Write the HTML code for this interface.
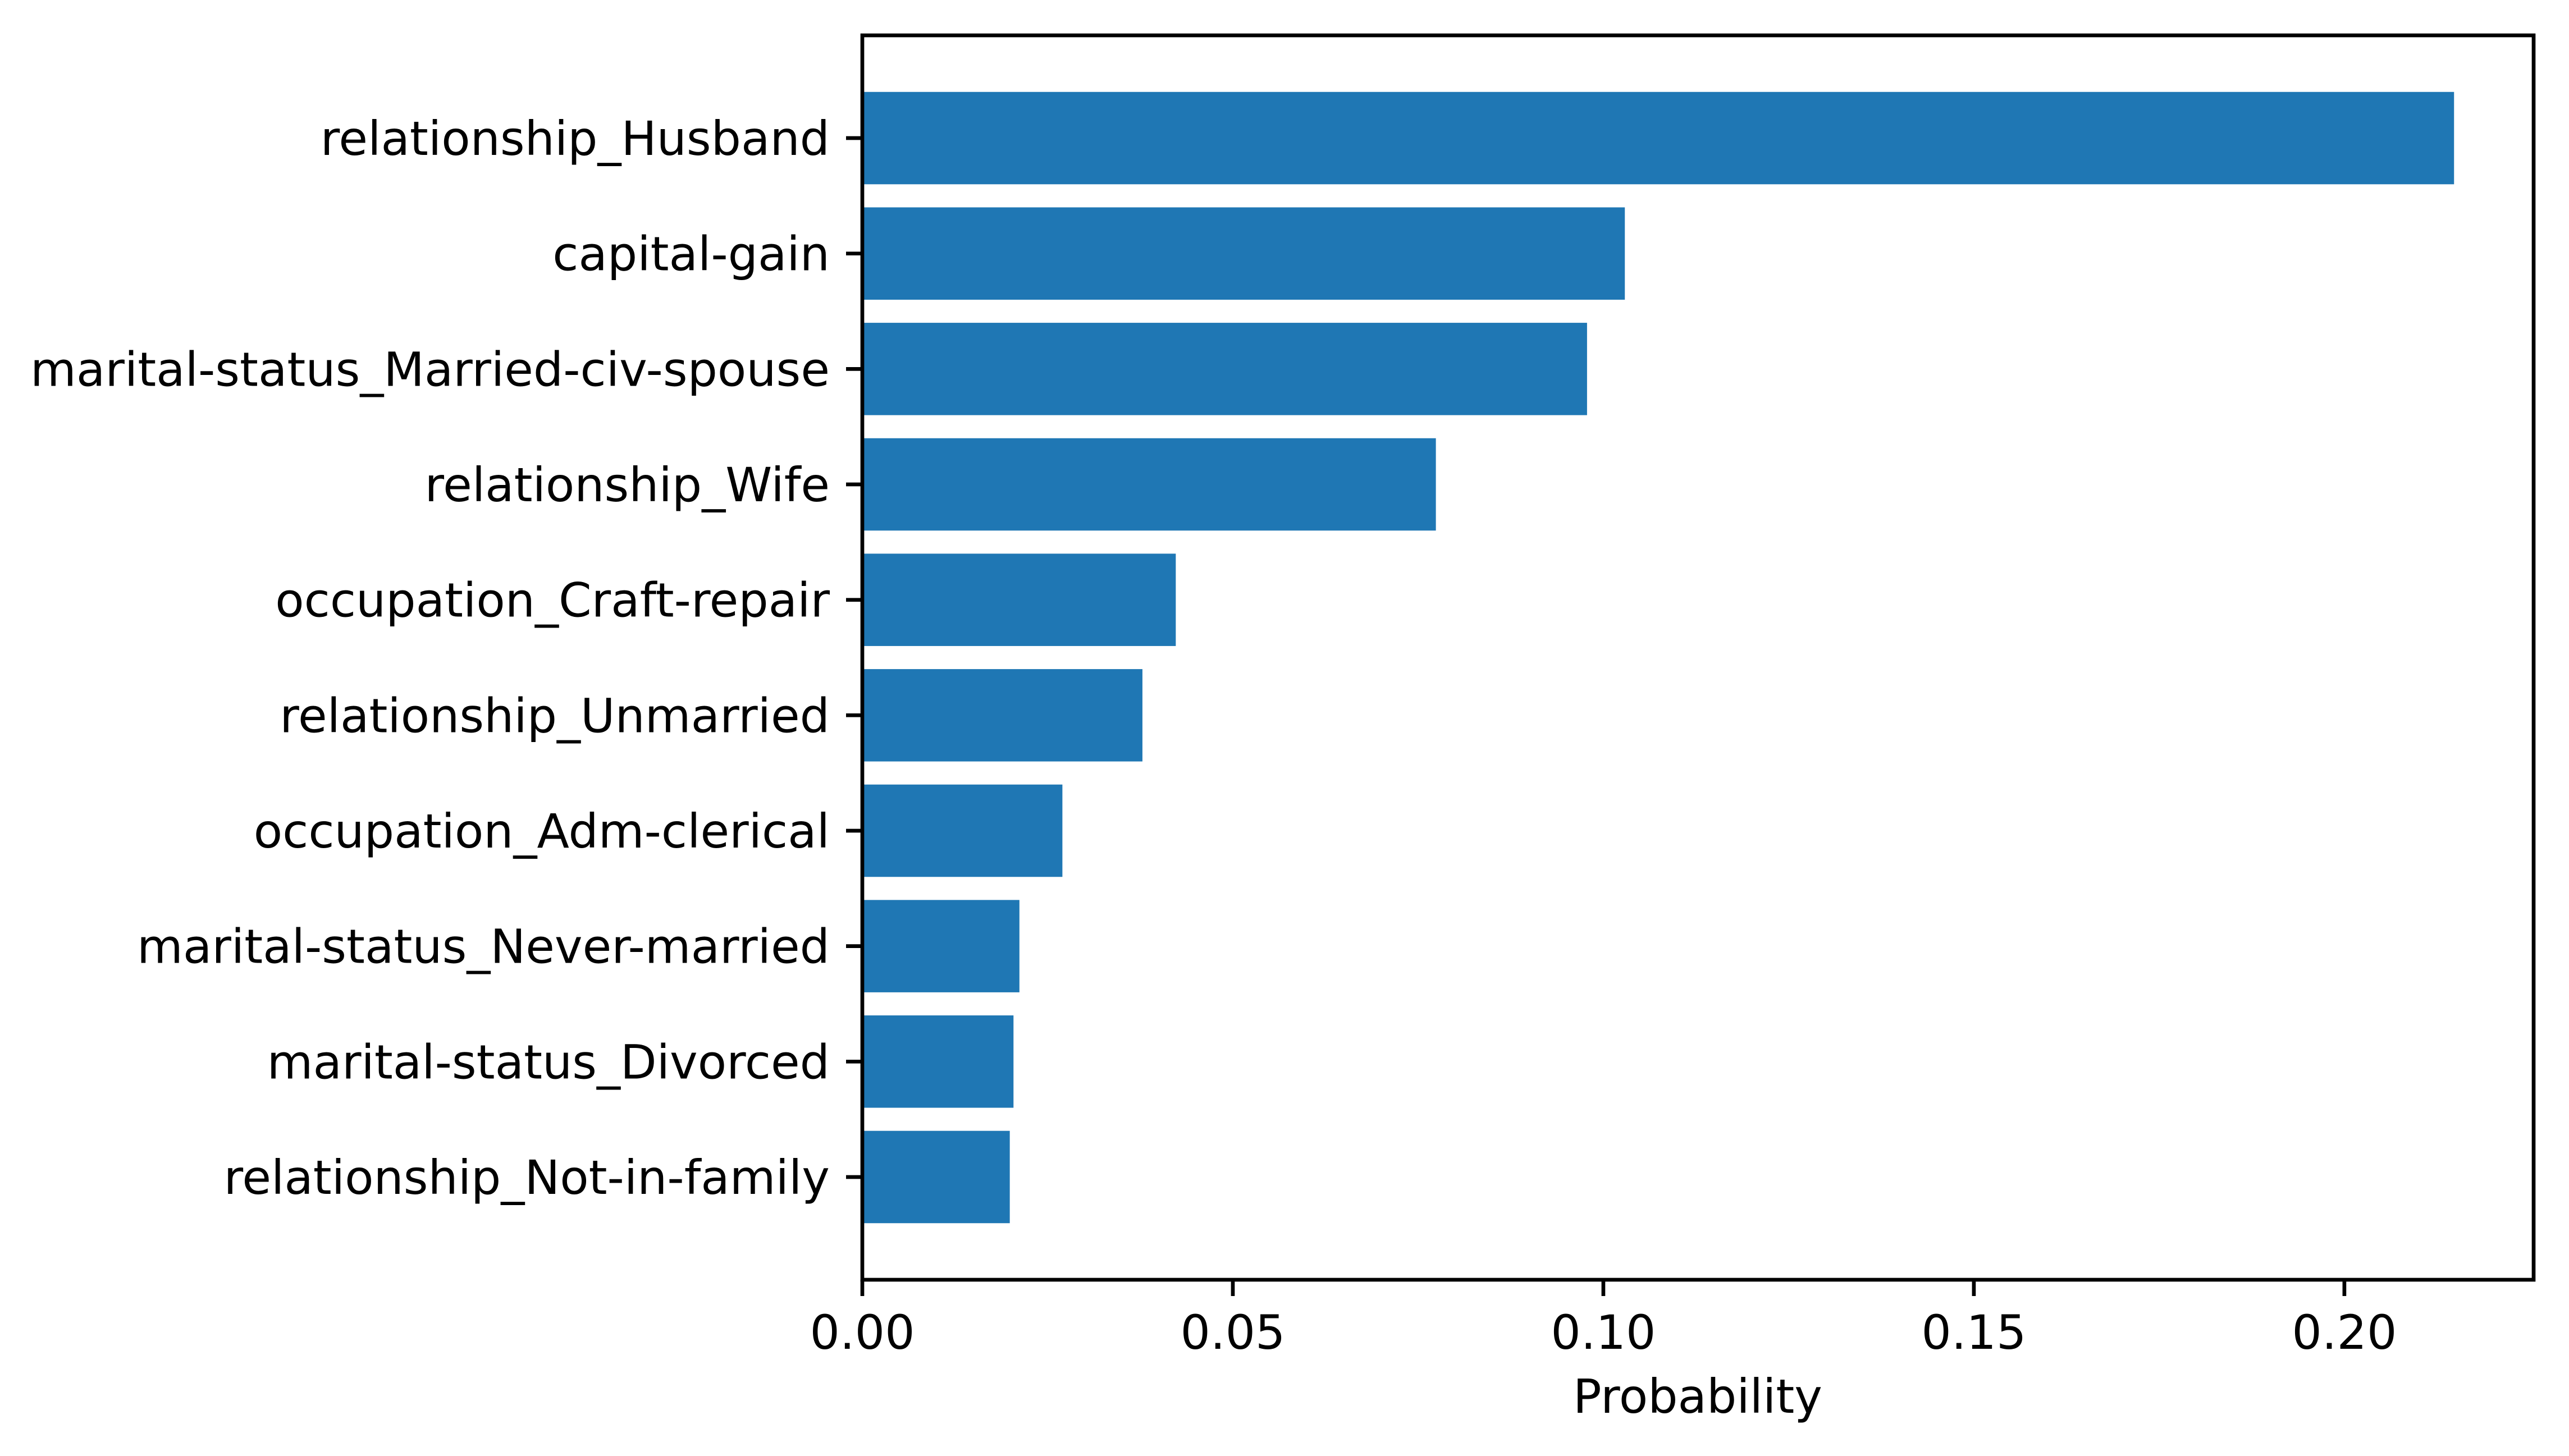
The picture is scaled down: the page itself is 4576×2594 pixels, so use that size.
<!DOCTYPE html>
<html><head><meta charset="utf-8"><style>
html,body{margin:0;padding:0;background:#fff;}
svg{display:block;font-family:"DejaVu Sans","Liberation Sans",sans-serif;}
</style></head><body>
<svg id="chart" width="4576" height="2594" viewBox="0 0 4576 2594" xmlns="http://www.w3.org/2000/svg">
<rect width="4576" height="2594" fill="#fff"/>
<g id="bars"></g>
<g id="yticks"></g>
<g id="xticks"></g>
<rect x="1536" y="63" width="2977" height="2217" fill="none" stroke="#000" stroke-width="6.7"/>
<text x="3024" y="2517" font-size="84" text-anchor="middle">Probability</text>
</svg>
<script>
const categories = ["relationship_Husband","capital-gain","marital-status_Married-civ-spouse","relationship_Wife","occupation_Craft-repair","relationship_Unmarried","occupation_Adm-clerical","marital-status_Never-married","marital-status_Divorced","relationship_Not-in-family"];
const values = [0.2148,0.1029,0.0978,0.0774,0.0423,0.0378,0.0270,0.0212,0.0204,0.0199];
const xTicks = [0, 0.05, 0.10, 0.15, 0.20];
const xTickLabels = ["0.00","0.05","0.10","0.15","0.20"];

const NS = "http://www.w3.org/2000/svg";
const L = 1536, R = 4513, T = 63, B = 2280;
const xMax = Math.max(...values) * 1.05;
const x = v => L + v / xMax * (R - L);
const n = categories.length;
const yMin = -0.4 - 0.05 * (n - 1 + 0.8), yMax = n - 1 + 0.4 + 0.05 * (n - 1 + 0.8);
const y = i => T + (i - yMin) / (yMax - yMin) * (B - T);
function mk(tag, attrs, parent) {
  const e = document.createElementNS(NS, tag);
  for (const k in attrs) e.setAttribute(k, attrs[k]);
  parent.appendChild(e);
  return e;
}
const gb = document.getElementById('bars');
const gy = document.getElementById('yticks');
const gx = document.getElementById('xticks');
categories.forEach((c, i) => {
  const r = mk('rect', {x: x(0), y: y(i - 0.4), width: x(values[i]) - x(0), height: y(i + 0.4) - y(i - 0.4), fill: '#1f77b4'}, gb);
  
  
  const tk = mk('line', {x1: L - 29, x2: L, y1: y(i), y2: y(i), stroke: '#000', 'stroke-width': 6.7}, gy);
  
  
  const t = mk('text', {x: L - 58, y: y(i) + 30, 'font-size': 84, 'text-anchor': 'end'}, gy);
  t.textContent = c;
  
  
});
xTicks.forEach((v, i) => {
  const tk = mk('line', {x1: x(v), x2: x(v), y1: B, y2: B + 29, stroke: '#000', 'stroke-width': 6.7}, gx);
  
  
  const t = mk('text', {x: x(v), y: 2403, 'font-size': 84, 'text-anchor': 'middle'}, gx);
  t.textContent = xTickLabels[i];
  
  
});
</script>
</body></html>
